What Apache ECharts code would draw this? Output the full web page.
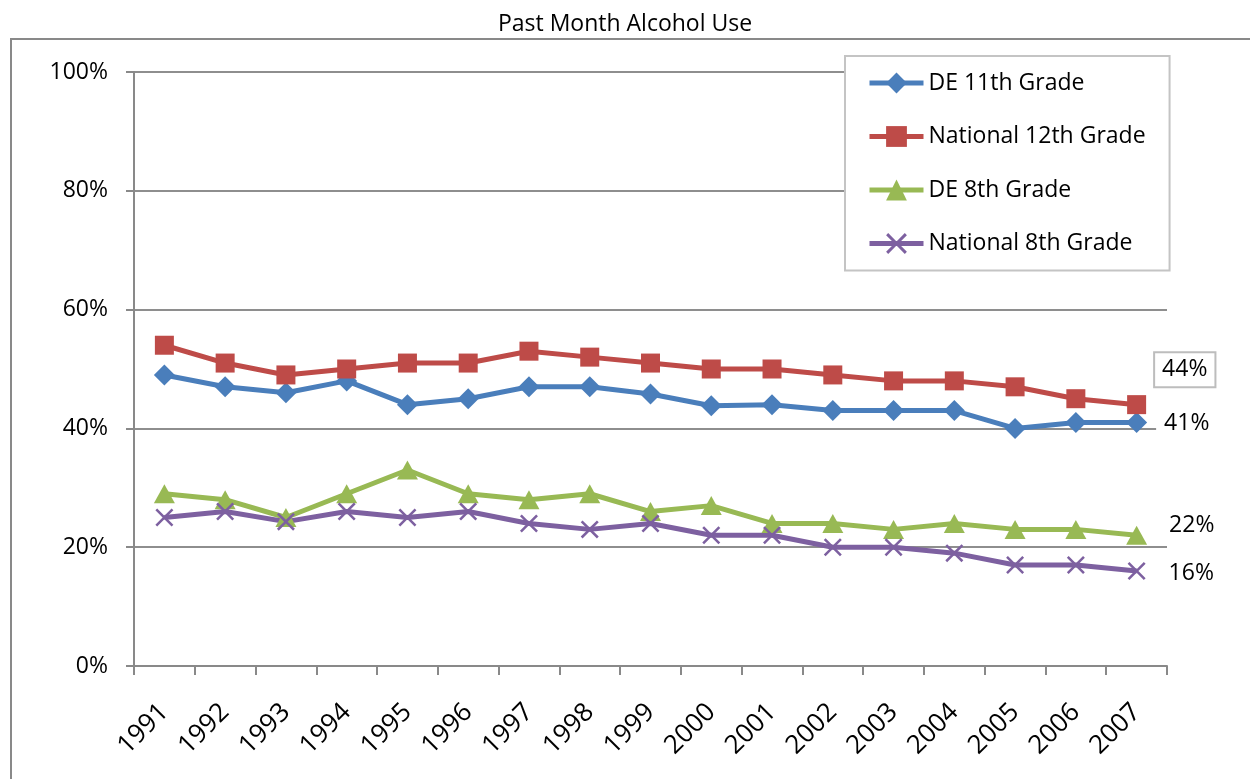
<!DOCTYPE html>
<html>
<head>
<meta charset="utf-8">
<script src="https://cdn.jsdelivr.net/npm/echarts@6/dist/echarts.min.js"></script>
<style>html,body{margin:0;padding:0;background:#fff}#c{width:1250px;height:779px}</style>
</head>
<body>
<div id="c"></div>
<script>
var years = ['1991','1992','1993','1994','1995','1996','1997','1998','1999','2000','2001','2002','2003','2004','2005','2006','2007'];
var de11 = [49,47,46,48,44,45,47,47,45.8,43.8,44,43,43,43,40,41,41];
var nat12 = [54,51,49,50,51,51,53,52,51,50,50,49,48,48,47,45,44];
var de8 = [29,28,25,29,33,29,28,29,26,27,24,24,23,24,23,23,22];
var nat8 = [25,26,24.3,26,25,26,24,23,24,22,22,20,20,19,17,17,16];
var yTicks = [0,20,40,60,80,100];

var FONT = "'Open Sans', 'Noto Sans', sans-serif";
var xPath = 'path://M1,0 L5,4 L9,0 L10,1 L6,5 L10,9 L9,10 L5,6 L1,10 L0,9 L4,5 L0,1 Z';

function withLastLabel(arr, label) {
  return arr.map(function (v, i) {
    if (i === arr.length - 1) return { value: v, label: Object.assign({ show: true, formatter: function (p) { return Math.round(p.value) + '%'; }, color: '#000', fontSize: 23, fontFamily: FONT }, label) };
    return v;
  });
}

function mkSeries(name, data, color, symbol, size, label) {
  return {
    name: name, type: 'line', data: withLastLabel(data, label),
    symbol: symbol, symbolSize: size, symbolKeepAspect: true,
    lineStyle: { color: color, width: 5 },
    itemStyle: { color: color },
    emphasis: { disabled: true },
    z: 3
  };
}

var chart = echarts.init(document.getElementById('c'), null, { renderer: 'canvas' });
chart.setOption({
  animation: false,
  backgroundColor: '#fff',
  title: { text: 'Past Month Alcohol Use', left: 'center', top: 8, textStyle: { fontFamily: FONT, fontSize: 23, fontWeight: 'normal', color: '#000' } },
  graphic: [{ type: 'rect', shape: { x: 11, y: 39, width: 1400, height: 900 }, style: { fill: 'none', stroke: '#898989', lineWidth: 2 }, z: -10, silent: true }],
  legend: {
    orient: 'vertical', left: 845, top: 56,
    padding: [14, 24, 14, 22],
    itemWidth: 54, itemHeight: 26, itemGap: 27.5,
    lineStyle: { width: 5 },
    backgroundColor: '#fff', borderColor: '#c4c4c4', borderWidth: 2,
    textStyle: { fontFamily: FONT, fontSize: 23, color: '#000', lineHeight: 26, padding: [0, 0, 0, 0] },
    data: ['DE 11th Grade', 'National 12th Grade', 'DE 8th Grade', 'National 8th Grade']
  },
  grid: { left: 134, right: 83, top: 72, bottom: 113, containLabel: false },
  xAxis: {
    type: 'category', data: years, boundaryGap: true,
    axisLine: { lineStyle: { color: '#898989', width: 2 } },
    axisTick: { show: true, length: 9, lineStyle: { color: '#898989', width: 2 } },
    axisLabel: { rotate: 45, margin: 42, fontFamily: FONT, fontSize: 26, color: '#000', interval: 0 },
    splitLine: { show: false }
  },
  yAxis: {
    type: 'value', min: yTicks[0], max: yTicks[yTicks.length - 1], interval: 20,
    axisLine: { show: true, lineStyle: { color: '#898989', width: 2 } },
    axisTick: { show: true, length: 8, lineStyle: { color: '#898989', width: 2 } },
    axisLabel: { formatter: '{value}%', margin: 26, fontFamily: FONT, fontSize: 23, color: '#000' },
    splitLine: { show: true, lineStyle: { color: '#8e8e8e', width: 2 } }
  },
  series: [
    mkSeries('DE 11th Grade', de11, '#4A7EBB', 'diamond', [21, 21], { position: 'right', distance: 9, offset: [0, 1], backgroundColor: '#fff', padding: [2, 8, 2, 8] }),
    mkSeries('National 12th Grade', nat12, '#BE4B48', 'rect', [19, 19], { position: 'right', distance: 9, offset: [0, -35], backgroundColor: '#fff', borderColor: '#bdbdbd', borderWidth: 2, padding: [5, 7, 5, 7] }),
    mkSeries('DE 8th Grade', de8, '#98B954', 'triangle', [21, 19], { position: 'right', distance: 22, offset: [0, -10] }),
    mkSeries('National 8th Grade', nat8, '#7D60A0', xPath, [18, 18], { position: 'right', distance: 23, offset: [0, 2] })
  ]
});
</script>
</body>
</html>
